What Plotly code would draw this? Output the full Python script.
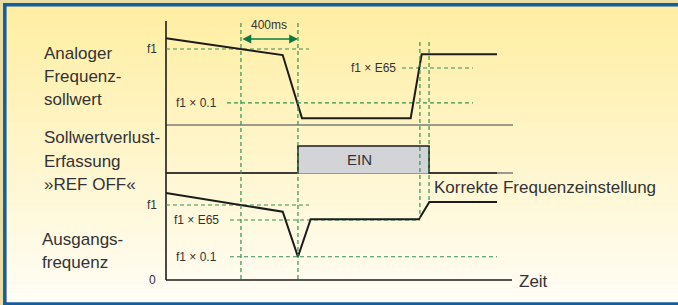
import plotly.graph_objects as go

# ---------------- data (time in ms, levels in schematic units of f1) ----------------
ref_t = [0, 819, 954, 1717, 1794, 2323]                 # analog frequency reference
ref_lvl = [1.14, 0.92, 0.09, 0.09, 0.93, 0.93]
refoff_t = [0, 926, 926, 1846, 1846, 2323]              # REF OFF detection state
refoff_state = [0, 0, 1, 1, 0, 0]
out_t = [0, 819, 926, 1015, 1775, 1848, 2323]           # output frequency
out_lvl = [1.16, 0.91, 0.31, 0.81, 0.81, 1.04, 1.04]
event_t = [526, 926, 1782, 1846]                        # vertical guide lines
event_top_px = [23, 23, 42, 42]
event_bot_px = [280, 280, 218, 200]
delay_span = [526, 926]                                 # 400 ms span
delay_label = "400ms"

top_thr_labels = ["f1", "f1 × 0.1", "f1 × E65"]
top_thr_lvl = [1.0, 0.29, 0.75]
top_thr_t0 = [0, 428, 1656]
top_thr_t1 = [1004, 2154, 2154]
bot_thr_labels = ["f1", "f1 × E65", "f1 × 0.1"]
bot_thr_lvl = [1.0, 0.8, 0.31]
bot_thr_t0 = [0, 449, 449]
bot_thr_t1 = [1004, 1782, 2323]

row_labels_top = ["Analoger", "Frequenz-", "sollwert"]
row_labels_mid = ["Sollwertverlust-", "Erfassung", "»REF OFF«"]
row_labels_bot = ["Ausgangs-", "frequenz"]
state_label = "EIN"
note_label = "Korrekte Frequenzeinstellung"
time_label = "Zeit"
zero_label = "0"

# ---------------- layout constants (pixels) ----------------
W, H = 678, 305
X0 = 166
PX_PER_MS = 57 / 400
Y_TOP0, S_TOP = 125, 76
Y_MID0, S_MID = 173, 27
Y_BOT0, S_BOT = 280, 75

FONT = "Liberation Sans, Arial, sans-serif"
TXT = "#333333"
GREEN = "#349052"
ARROW = "#0b7a3e"
BLACK = "#1c1c1c"


def t_of(px):
    return (px - X0) / PX_PER_MS


def fx(px):
    return px / W


def fy(py):
    return 1 - py / H


def yrange(y0, s):
    return [(y0 - H) / s, y0 / s]


fig = go.Figure()

# dashed thresholds
for lvl, a, b in zip(top_thr_lvl, top_thr_t0, top_thr_t1):
    fig.add_trace(go.Scatter(x=[a, b], y=[lvl, lvl], mode="lines", yaxis="y",
                             line=dict(color=GREEN, width=1.2, dash="4px,3px"),
                             hoverinfo="skip", showlegend=False))
for lvl, a, b in zip(bot_thr_lvl, bot_thr_t0, bot_thr_t1):
    fig.add_trace(go.Scatter(x=[a, b], y=[lvl, lvl], mode="lines", yaxis="y3",
                             line=dict(color=GREEN, width=1.2, dash="4px,3px"),
                             hoverinfo="skip", showlegend=False))

# REF OFF box
fig.add_trace(go.Scatter(x=refoff_t, y=refoff_state, mode="lines", yaxis="y2",
                         fill="tozeroy", fillcolor="#d3d4d8",
                         line=dict(color=BLACK, width=1.6),
                         hoverinfo="skip", showlegend=False))
# signals
fig.add_trace(go.Scatter(x=ref_t, y=ref_lvl, mode="lines", yaxis="y",
                         line=dict(color=BLACK, width=2),
                         hoverinfo="skip", showlegend=False))
fig.add_trace(go.Scatter(x=out_t, y=out_lvl, mode="lines", yaxis="y3",
                         line=dict(color=BLACK, width=2),
                         hoverinfo="skip", showlegend=False))

shapes = []
# gradient background
N = 60
top_c = (255, 238, 162)
bot_c = (255, 253, 245)
y_a, y_b = 6.5, 303
for i in range(N):
    f = i / (N - 1)
    c = tuple(round(top_c[k] + (bot_c[k] - top_c[k]) * f) for k in range(3))
    ya = y_a + (y_b - y_a) * i / N
    yb = y_a + (y_b - y_a) * (i + 1) / N + 0.6
    shapes.append(dict(type="rect", xref="paper", yref="paper", layer="below",
                       x0=fx(6.5), x1=fx(W), y0=fy(ya), y1=fy(min(yb, y_b)),
                       line=dict(width=0), fillcolor="rgb(%d,%d,%d)" % c))
# frame
shapes.append(dict(type="line", xref="paper", yref="paper", layer="below",
                   x0=fx(3), x1=fx(W), y0=fy(4.8), y1=fy(4.8),
                   line=dict(color="#155e9c", width=3.5)))
shapes.append(dict(type="line", xref="paper", yref="paper", layer="below",
                   x0=fx(4.8), x1=fx(4.8), y0=fy(3), y1=fy(H),
                   line=dict(color="#155e9c", width=3.5)))
shapes.append(dict(type="line", xref="paper", yref="paper", layer="below",
                   x0=fx(3), x1=fx(W), y0=fy(304), y1=fy(304),
                   line=dict(color="#155e9c", width=3.5)))
# axes / separators
shapes.append(dict(type="line", xref="paper", yref="paper", layer="below",
                   x0=fx(X0), x1=fx(513), y0=fy(Y_TOP0), y1=fy(Y_TOP0),
                   line=dict(color="#7a7a7a", width=1.3)))
shapes.append(dict(type="line", xref="paper", yref="paper", layer="below",
                   x0=fx(X0), x1=fx(513), y0=fy(Y_MID0), y1=fy(Y_MID0),
                   line=dict(color="#7a7a7a", width=1.3)))
shapes.append(dict(type="line", xref="paper", yref="paper", layer="below",
                   x0=fx(X0), x1=fx(512), y0=fy(Y_BOT0), y1=fy(Y_BOT0),
                   line=dict(color=BLACK, width=1.4)))
shapes.append(dict(type="line", xref="paper", yref="paper", layer="below",
                   x0=fx(X0), x1=fx(X0), y0=fy(21), y1=fy(Y_BOT0),
                   line=dict(color=BLACK, width=1.6)))
# vertical event guides
for t, a, b in zip(event_t, event_top_px, event_bot_px):
    shapes.append(dict(type="line", xref="x", yref="paper", layer="above",
                       x0=t, x1=t, y0=fy(a), y1=fy(b),
                       line=dict(color=GREEN, width=1.2, dash="4px,3px")))

ann = []


def label(text, x, y, xanchor="left", size=17, xref="paper", yref="paper", color=TXT):
    ann.append(dict(text=text, x=x, y=y, xref=xref, yref=yref, xanchor=xanchor,
                    yanchor="middle", showarrow=False,
                    font=dict(family=FONT, size=size, color=color)))


for txt, py in zip(row_labels_top, [53, 77, 100]):
    label(txt, fx(42), fy(py))
for txt, py in zip(row_labels_mid, [138, 162, 184]):
    label(txt, fx(42), fy(py))
for txt, py in zip(row_labels_bot, [239, 262]):
    label(txt, fx(40), fy(py))

# threshold labels
top_lbl_right = [159, 219, 398]
for txt, lvl, xr in zip(top_thr_labels, top_thr_lvl, top_lbl_right):
    label(txt, fx(xr), lvl, xanchor="right", size=12, yref="y")
bot_lbl_right = [159, 221, 219]
for txt, lvl, xr in zip(bot_thr_labels, bot_thr_lvl, bot_lbl_right):
    label(txt, fx(xr), lvl, xanchor="right", size=12, yref="y3")
label(zero_label, fx(158), 0, xanchor="right", size=12, yref="y3")

# 400 ms arrow
arrow_lvl = (Y_TOP0 - 39) / S_TOP
ann.append(dict(x=delay_span[1], y=arrow_lvl, ax=delay_span[0], ay=arrow_lvl,
                xref="x", yref="y", axref="x", ayref="y", text="",
                showarrow=True, arrowside="end+start", arrowhead=2,
                arrowsize=1.1, arrowwidth=1.6, arrowcolor=ARROW, standoff=0,
                startstandoff=0))
label(delay_label, (delay_span[0] + delay_span[1]) / 2, fy(25), xanchor="center",
      size=12, xref="x")

label(state_label, (refoff_t[2] + refoff_t[3]) / 2 - 30, 0.5, xanchor="center",
      size=15, xref="x", yref="y2")
label(note_label, fx(432), fy(187), size=17)
label(time_label, fx(517), fy(281), size=17)

fig.update_layout(
    width=W, height=H, autosize=False,
    margin=dict(l=0, r=0, t=0, b=0, pad=0),
    paper_bgcolor="#e9dca4", plot_bgcolor="rgba(0,0,0,0)",
    shapes=shapes, annotations=ann, showlegend=False,
    xaxis=dict(range=[t_of(0), t_of(W)], visible=False, fixedrange=True),
    yaxis=dict(range=yrange(Y_TOP0, S_TOP), visible=False, fixedrange=True),
    yaxis2=dict(range=yrange(Y_MID0, S_MID), visible=False, fixedrange=True,
                overlaying="y"),
    yaxis3=dict(range=yrange(Y_BOT0, S_BOT), visible=False, fixedrange=True,
                overlaying="y"),
)

fig.write_html("out.html", config={"displayModeBar": False, "staticPlot": True},
               post_script="document.body.style.margin='0';document.body.style.overflow='hidden';")
